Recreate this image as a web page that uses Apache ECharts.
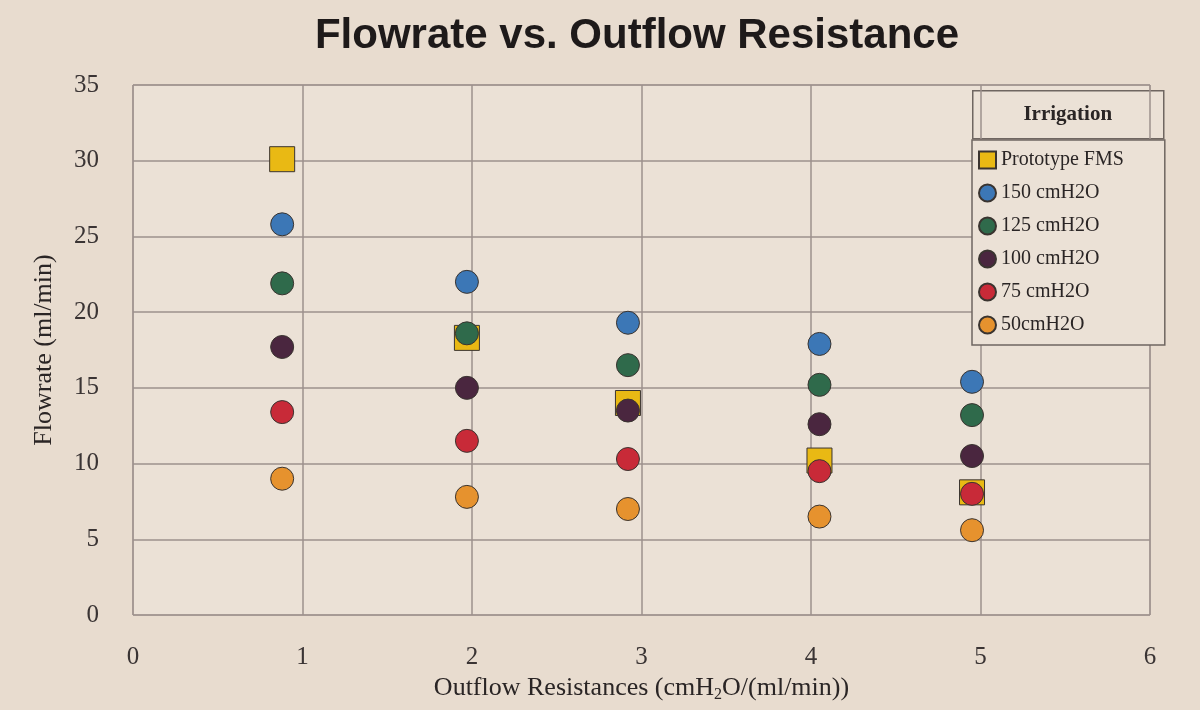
<!DOCTYPE html>
<html>
<head>
<meta charset="utf-8">
<style>
  html, body { margin: 0; padding: 0; background: #e8dccf; }
  #chart { width: 1200px; height: 710px; }
</style>
<script src="https://cdn.jsdelivr.net/npm/echarts@6/dist/echarts.min.js"></script>
</head>
<body>
<div id="chart"></div>
<script>
var dom = document.getElementById('chart');
var myChart = echarts.init(dom, null, { renderer: 'canvas' });

// resistance positions
var resistance = [0.88, 1.97, 2.92, 4.05, 4.95];

var seriesNames = ['Prototype FMS', '150 cmH2O', '125 cmH2O', '100 cmH2O', '75 cmH2O', '50cmH2O'];
var prototypeFMS = [30.1, 18.3, 14.0, 10.2, 8.1];
var p150 = [25.8, 22.0, 19.3, 17.9, 15.4];
var p125 = [21.9, 18.6, 16.5, 15.2, 13.2];
var p100 = [17.7, 15.0, 13.5, 12.6, 10.5];
var p75 = [13.4, 11.5, 10.3, 9.5, 8.0];
var p50 = [9.0, 7.8, 7.0, 6.5, 5.6];

var seriesValues = [prototypeFMS, p150, p125, p100, p75, p50];
var colors = ['#e9b914', '#3c77b6', '#2f6a4b', '#4a263f', '#c82a38', '#e6922e'];
var symbols = ['rect', 'circle', 'circle', 'circle', 'circle', 'circle'];
var sizes = [25, 23, 23, 23, 23, 23];

var serif = '"Liberation Serif", "DejaVu Serif", serif';

var series = seriesNames.map(function (name, i) {
    return {
        name: name,
        type: 'scatter',
        symbol: symbols[i],
        symbolSize: sizes[i],
        z: 2 + i,
        itemStyle: {
            color: colors[i],
            opacity: 1,
            borderColor: '#3a3430',
            borderWidth: 1
        },
        data: seriesValues[i].map(function (v, j) {
            return [resistance[j], v];
        })
    };
});

var option = {
    backgroundColor: '#e8dccf',
    animation: false,
    title: {
        text: 'Flowrate vs. Outflow Resistance',
        left: 632,
        top: 10,
        textAlign: 'center',
        textStyle: {
            fontFamily: '"Liberation Sans", Arial, sans-serif',
            fontWeight: 'bold',
            fontSize: 42,
            color: '#1e1a1a'
        }
    },
    grid: {
        left: 133,
        right: 50,
        top: 85,
        bottom: 95,
        show: true,
        backgroundColor: '#ebe1d6',
        borderColor: '#a09590',
        borderWidth: 1
    },
    xAxis: {
        type: 'value',
        min: 0,
        max: 6,
        interval: 1,
        name: '{a|Outflow Resistances (cmH}{s|2}{a|O/(ml/min))}',
        nameLocation: 'middle',
        nameGap: 56,
        nameTextStyle: {
            rich: {
                a: { fontFamily: serif, fontSize: 26, color: '#2a2525' },
                s: { fontFamily: serif, fontSize: 16, color: '#2a2525', padding: [14, 0, 0, 0] }
            }
        },
        axisLine: { show: false },
        axisTick: { show: false },
        axisLabel: {
            margin: 30,
            fontFamily: serif,
            fontSize: 25,
            color: '#3a3434'
        },
        splitLine: { lineStyle: { color: '#9d918c', width: 1.5 } }
    },
    yAxis: {
        type: 'value',
        min: 0,
        max: 35,
        interval: 5,
        name: 'Flowrate (ml/min)',
        nameLocation: 'middle',
        nameGap: 76,
        nameTextStyle: {
            fontFamily: serif,
            fontSize: 26,
            color: '#2a2525'
        },
        axisLine: { show: false },
        axisTick: { show: false },
        axisLabel: {
            margin: 34,
            fontFamily: serif,
            fontSize: 25,
            color: '#3a3434'
        },
        splitLine: { lineStyle: { color: '#9d918c', width: 1.5 } }
    },
    legend: {
        orient: 'vertical',
        left: 972,
        top: 140,
        data: seriesNames.map(function (n, i) {
            return { name: n, icon: symbols[i] };
        }),
        itemWidth: 17,
        itemHeight: 17,
        itemGap: 13,
        padding: [10, 41, 10, 6],
        backgroundColor: '#ebe1d6',
        borderColor: '#6f6661',
        borderWidth: 1.5,
        itemStyle: { opacity: 1 },
        textStyle: {
            fontFamily: serif,
            fontSize: 20,
            color: '#2a2525'
        }
    },
    graphic: [
        {
            type: 'group',
            left: 972,
            top: 90,
            children: [
                {
                    type: 'rect',
                    shape: { x: 0, y: 0, width: 191, height: 48 },
                    style: { fill: '#ebe1d6', stroke: '#6f6661', lineWidth: 1.5 }
                },
                {
                    type: 'text',
                    x: 95,
                    y: 24,
                    style: {
                        text: 'Irrigation',
                        fontFamily: serif,
                        fontWeight: 'bold',
                        fontSize: 21,
                        fill: '#2a2525',
                        align: 'center',
                        verticalAlign: 'middle'
                    }
                }
            ]
        }
    ],
    series: series
};

myChart.setOption(option);
window.addEventListener('resize', myChart.resize);
</script>
</body>
</html>
